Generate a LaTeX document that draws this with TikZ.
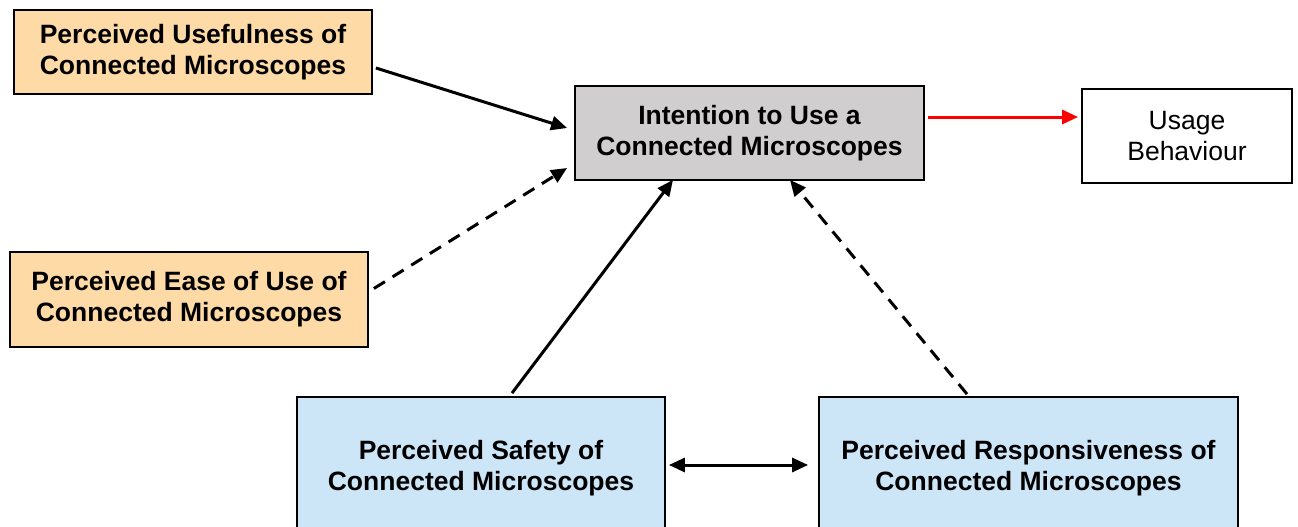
\documentclass[tikz,border=0pt]{standalone}
\usepackage{fontspec}
\setmainfont{Liberation Sans}
\usetikzlibrary{arrows.meta,calc}
\definecolor{orangefill}{HTML}{FEDBA6}
\definecolor{grayfill}{HTML}{D0CECF}
\definecolor{bluefill}{HTML}{CCE6F8}
\begin{document}
\begin{tikzpicture}[x=1pt,y=-1pt,
  box/.style={draw=black,line width=1.8pt,inner sep=0pt,align=center,font=\fontsize{26.5}{31}\selectfont\bfseries},
  conn/.style={line width=3pt,-{Triangle[length=16pt,width=14pt]}},
  dsh/.style={dash pattern=on 13pt off 9pt}]
\useasboundingbox (0,0) rectangle (1298,527);
\node[box,fill=orangefill,minimum width=358pt,minimum height=84pt] (PU) at (193,52) {Perceived Usefulness of\\Connected Microscopes};
\node[box,fill=orangefill,minimum width=358pt,minimum height=95pt] (PE) at (189,299.5) {Perceived Ease of Use of\\Connected Microscopes};
\node[box,fill=grayfill,minimum width=349pt,minimum height=94pt] (IT) at (749.5,133) {Intention to Use a\\Connected Microscopes};
\node[box,font=\fontsize{26.5}{31}\selectfont,minimum width=210pt,minimum height=94pt] (UB) at (1187,136) {Usage\\Behaviour};
\node[box,fill=bluefill,minimum width=368pt,minimum height=142pt] (PS) at (481,468) {Perceived Safety of\\Connected Microscopes};
\node[box,fill=bluefill,minimum width=419pt,minimum height=142pt] (PR) at (1028.5,468) {Perceived Responsiveness of\\Connected Microscopes};
\draw[conn] ([xshift=3pt,yshift=-16pt]PU.east) -- ([xshift=-7pt,yshift=5pt]IT.west);
\draw[conn,dsh] ([xshift=5pt,yshift=11pt]PE.east) -- ([xshift=-7pt,yshift=-35pt]IT.west);
\draw[conn] ([xshift=31pt,yshift=3pt]PS.north) -- ([xshift=-76.5pt,yshift=1pt]IT.south);
\draw[conn,dsh] ([xshift=-61.5pt,yshift=2pt]PR.north) -- ([xshift=40.5pt,yshift=1pt]IT.south);
\coordinate (r0) at ([xshift=3pt,yshift=16pt]IT.east);
\draw[conn,red] (r0) -- ([xshift=-3pt]r0 -| UB.west);
\coordinate (d0) at ([xshift=3pt,yshift=3pt]PS.east);
\draw[line width=3pt,{Triangle[length=16pt,width=14pt]}-{Triangle[length=16pt,width=14pt]}] (d0) -- ([xshift=-10pt]d0 -| PR.west);
\end{tikzpicture}
\end{document}
